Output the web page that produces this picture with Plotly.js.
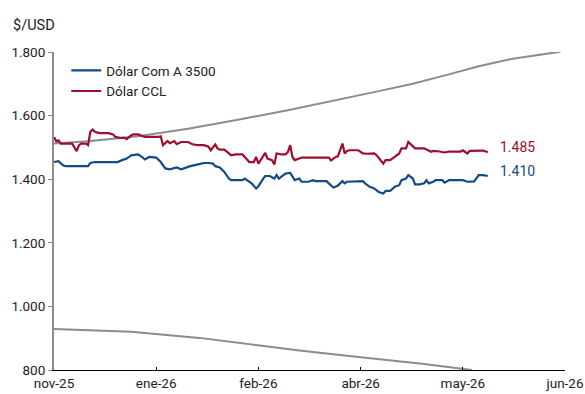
<!DOCTYPE html>
<html>
<head>
<meta charset="utf-8">
<script src="https://cdn.plot.ly/plotly-3.0.1.min.js"></script>
<style>
html,body{margin:0;padding:0;background:#fff;}
#chart{width:585px;height:394px;}
</style>
</head>
<body>
<div id="chart"></div>
<script>
// ---- Data ----
const a3500Dates = ['2025-11-17','2025-11-18','2025-11-19','2025-11-21','2025-11-22','2025-12-02','2025-12-03','2025-12-05','2025-12-15','2025-12-17','2025-12-19','2025-12-21','2025-12-24','2025-12-26','2025-12-27','2025-12-29','2025-12-31','2026-01-01','2026-01-03','2026-01-05','2026-01-07','2026-01-10','2026-01-12','2026-01-14','2026-01-16','2026-01-19','2026-01-22','2026-01-24','2026-01-26','2026-01-27','2026-01-29','2026-01-31','2026-02-02','2026-02-03','2026-02-08','2026-02-09','2026-02-11','2026-02-12','2026-02-14','2026-02-15','2026-02-17','2026-02-18','2026-02-20','2026-02-22','2026-02-23','2026-02-24','2026-02-26','2026-02-27','2026-03-01','2026-03-02','2026-03-03','2026-03-05','2026-03-06','2026-03-09','2026-03-11','2026-03-12','2026-03-17','2026-03-18','2026-03-20','2026-03-21','2026-03-22','2026-03-24','2026-03-25','2026-03-26','2026-03-31','2026-04-02','2026-04-03','2026-04-05','2026-04-07','2026-04-09','2026-04-11','2026-04-12','2026-04-14','2026-04-16','2026-04-18','2026-04-19','2026-04-21','2026-04-22','2026-04-24','2026-04-25','2026-04-27','2026-04-29','2026-04-30','2026-05-01','2026-05-03','2026-05-04','2026-05-07','2026-05-08','2026-05-10','2026-05-16','2026-05-18','2026-05-20','2026-05-21','2026-05-23','2026-05-25','2026-05-27'];
const a3500 = [1454,1455,1457,1444,1441,1441,1451,1454,1454,1460,1465,1475,1478,1469,1462,1470,1468,1468,1454,1434,1431,1437,1431,1437,1441,1446,1451,1451,1449,1441,1437,1423,1402,1397,1397,1402,1392,1387,1371,1378,1400,1410,1410,1402,1413,1402,1413,1418,1420,1410,1397,1402,1392,1392,1397,1394,1394,1387,1374,1376,1380,1394,1387,1392,1392,1394,1387,1376,1371,1360,1355,1363,1363,1376,1381,1397,1402,1413,1402,1384,1384,1387,1397,1387,1392,1397,1397,1389,1397,1397,1392,1393,1393,1413,1413,1410];

const cclDates = ['2025-11-17','2025-11-18','2025-11-19','2025-11-20','2025-11-25','2025-11-26','2025-11-27','2025-11-28','2025-11-29','2025-12-01','2025-12-02','2025-12-03','2025-12-04','2025-12-05','2025-12-07','2025-12-11','2025-12-13','2025-12-14','2025-12-16','2025-12-18','2025-12-19','2025-12-21','2025-12-22','2025-12-24','2025-12-26','2025-12-27','2026-01-02','2026-01-03','2026-01-04','2026-01-06','2026-01-07','2026-01-09','2026-01-10','2026-01-12','2026-01-15','2026-01-17','2026-01-19','2026-01-22','2026-01-24','2026-01-25','2026-01-27','2026-01-28','2026-01-29','2026-01-31','2026-02-02','2026-02-03','2026-02-05','2026-02-08','2026-02-09','2026-02-11','2026-02-13','2026-02-14','2026-02-15','2026-02-17','2026-02-18','2026-02-19','2026-02-20','2026-02-21','2026-02-22','2026-02-23','2026-02-25','2026-02-27','2026-02-28','2026-03-01','2026-03-02','2026-03-03','2026-03-05','2026-03-06','2026-03-18','2026-03-19','2026-03-21','2026-03-22','2026-03-24','2026-03-25','2026-03-26','2026-03-27','2026-03-31','2026-04-02','2026-04-04','2026-04-07','2026-04-08','2026-04-10','2026-04-11','2026-04-12','2026-04-14','2026-04-16','2026-04-18','2026-04-19','2026-04-21','2026-04-22','2026-04-24','2026-04-25','2026-04-29','2026-04-30','2026-05-02','2026-05-03','2026-05-05','2026-05-08','2026-05-10','2026-05-12','2026-05-15','2026-05-16','2026-05-18','2026-05-19','2026-05-24','2026-05-25','2026-05-27'];
const ccl = [1533,1519,1522,1512,1512,1502,1488,1507,1512,1512,1507,1549,1556,1549,1545,1545,1541,1533,1530,1530,1526,1538,1541,1541,1535,1533,1533,1535,1507,1520,1513,1520,1510,1517,1517,1510,1507,1507,1502,1491,1509,1497,1493,1493,1481,1475,1478,1478,1470,1454,1454,1470,1449,1472,1483,1465,1462,1460,1446,1481,1478,1478,1486,1507,1470,1460,1465,1468,1468,1459,1470,1472,1512,1481,1489,1491,1491,1481,1480,1481,1476,1457,1449,1460,1460,1470,1481,1497,1497,1517,1502,1497,1497,1494,1486,1489,1488,1484,1487,1487,1487,1491,1481,1489,1489,1490,1485];

const upperDates = ['2025-11-17','2025-12-02','2025-12-24','2026-01-15','2026-02-06','2026-02-28','2026-04-09','2026-04-24','2026-05-09','2026-05-23','2026-06-07','2026-06-22','2026-06-28'];
const upperBand = [1512,1519,1535,1559,1587,1617,1677,1700,1728,1755,1779,1796,1801];

const lowerDates = ['2025-11-17','2025-12-21','2026-01-20','2026-02-11','2026-03-05','2026-03-31','2026-04-28','2026-05-20'];
const lowerBand = [929,920,901,880,861,841,820,800];

const seriesNames = ['Dólar Com A 3500','Dólar CCL'];
const tickDates = ['2025-11-17','2026-01-01','2026-02-15','2026-04-01','2026-05-16','2026-06-30'];
const tickLabels = ['nov-25','ene-26','feb-26','abr-26','may-26','jun-26'];
const yTicks = [800,1000,1200,1400,1600,1800];
const yUnit = '$/USD';

// ---- Styles ----
const BLUE = '#144a86';
const RED = '#9c0f2e';
const GRAY = '#8c8c8c';
const FONT = 'Roboto, "Noto Sans", sans-serif';

function fmt(v){ return Math.round(v).toString().replace(/\B(?=(\d{3})+(?!\d))/g,'.'); }

const traces = [
  {x: upperDates, y: upperBand, mode:'lines', line:{color:GRAY, width:2}, showlegend:false, hoverinfo:'skip'},
  {x: lowerDates, y: lowerBand, mode:'lines', line:{color:GRAY, width:2}, showlegend:false, hoverinfo:'skip'},
  {x: a3500Dates, y: a3500, mode:'lines', name: seriesNames[0], line:{color:BLUE, width:2.2}},
  {x: cclDates, y: ccl, mode:'lines', name: seriesNames[1], line:{color:RED, width:2.2}}
];

const layout = {
  width:585, height:394,
  margin:{l:54, r:20, t:51.5, b:23.5},
  paper_bgcolor:'#fff', plot_bgcolor:'#fff',
  separators:',.',
  font:{family:FONT, size:13.5, color:'#222'},
  showlegend:true,
  legend:{x:0.024, y:0.99, xanchor:'left', yanchor:'top', bgcolor:'rgba(0,0,0,0)',
          font:{family:FONT, size:13.5, color:'#222'}, tracegroupgap:0, itemwidth:30},
  xaxis:{type:'date', range:[tickDates[0], tickDates[tickDates.length-1]],
         tickmode:'array', tickvals:tickDates, ticktext:tickLabels,
         showgrid:false, zeroline:false, showline:true, linecolor:'#000', linewidth:1,
         ticks:'inside', ticklen:3, tickcolor:'#000', ticklabelstandoff:1,
         tickfont:{family:FONT, size:13.5, color:'#222'}},
  yaxis:{range:[800,1800], tickmode:'array', tickvals:yTicks, ticktext:yTicks.map(fmt),
         showgrid:false, zeroline:false, showline:true, linecolor:GRAY, linewidth:2,
         ticks:'outside', ticklen:4, tickcolor:GRAY, tickfont:{family:FONT, size:13.5, color:'#222'}},
  annotations:[
    {xref:'paper', yref:'paper', x:-0.084, y:1.083, xanchor:'left', yanchor:'middle',
     text:yUnit, showarrow:false, font:{family:FONT, size:14.5, color:'#222'}},
    {x:cclDates[cclDates.length-1], y:ccl[ccl.length-1], xanchor:'left', yanchor:'middle',
     xshift:10, yshift:5, text:fmt(ccl[ccl.length-1]), showarrow:false, font:{family:FONT, size:14, color:RED}},
    {x:a3500Dates[a3500Dates.length-1], y:a3500[a3500.length-1], xanchor:'left', yanchor:'middle',
     xshift:10, yshift:5, text:fmt(a3500[a3500.length-1]), showarrow:false, font:{family:FONT, size:14, color:BLUE}}
  ]
};

Plotly.newPlot('chart', traces, layout, {staticPlot:true, displayModeBar:false});
</script>
</body>
</html>
